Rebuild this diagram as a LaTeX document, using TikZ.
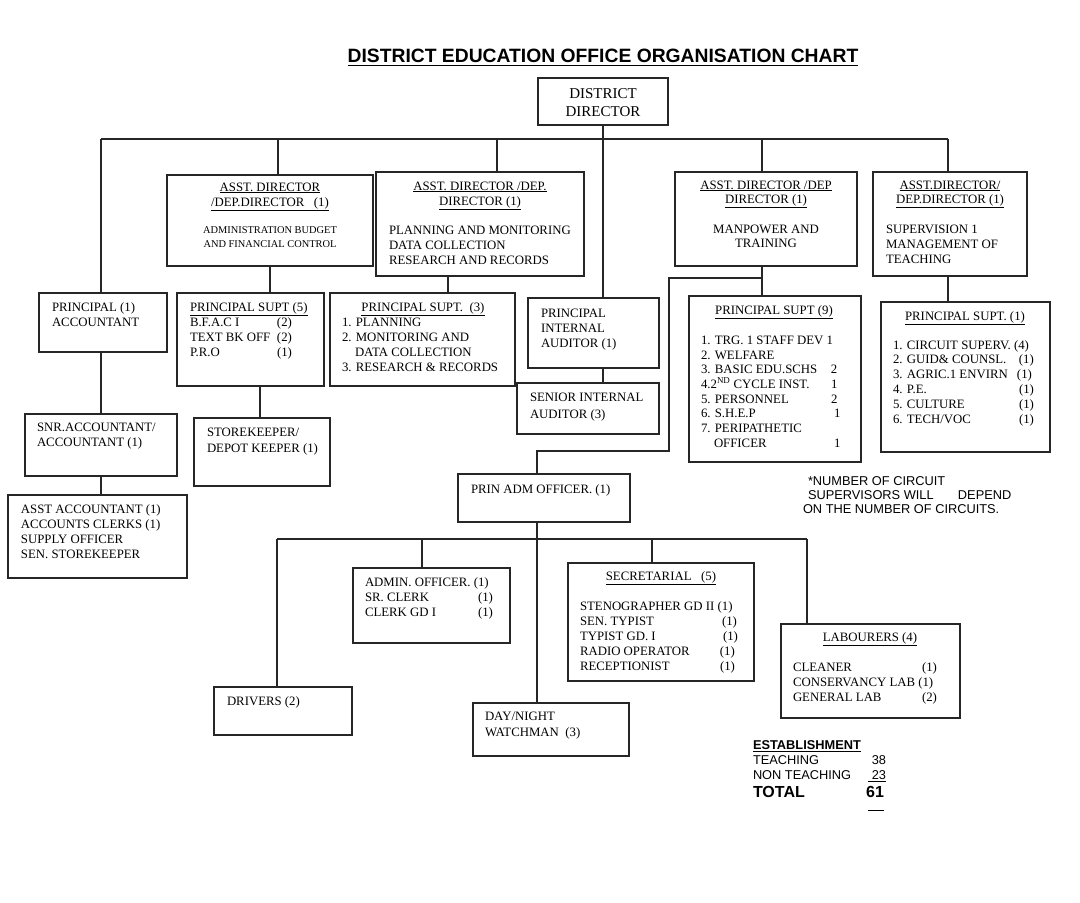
\documentclass[tikz,border=0pt]{standalone}
\usepackage{fontspec}
\setmainfont{Liberation Serif}
\newfontfamily\sansf{Liberation Sans}
\newcommand\ctr[2]{\makebox[#1pt][c]{#2}}
\newcommand\lc[2]{\makebox[#1pt][l]{#2}}
\newcommand\smallf{\fontsize{10.4}{14}\selectfont}
\newcommand\thickul[1]{\vtop{\hbox{#1}\kern1.6pt\hrule height 1.8pt}}
\newcommand\obox[7]{\node[obox, anchor=north west] (#1) at (#2,#3) {\parbox[c][\dimexpr #5pt-#3pt\relax][t]{\dimexpr #4pt-#2pt\relax}{\vspace*{#6pt}#7}};}
\tikzset{
  obox/.style={draw=black!85, line width=1.2pt, inner sep=0pt, outer sep=0pt, font=\fontsize{12.8}{15}\selectfont},
  conn/.style={draw=black!85, line width=1.2pt},
  plaintext/.style={inner sep=0pt, outer sep=0pt}
}
\begin{document}
\begin{tikzpicture}[x=1pt, y=-1pt]
\fill[white] (0,0) rectangle (1080,903);
\useasboundingbox (0,0) rectangle (1080,903);

% title
\node[plaintext, anchor=base, font=\sansf\bfseries\fontsize{19.3}{22}\selectfont] (title) at (603,62.8) {\thickul{DISTRICT EDUCATION OFFICE ORGANISATION CHART}};

% boxes
\obox{dd}{538}{78}{668}{125}{7.4}{\centering\fontsize{15}{18}\selectfont\begin{tabular}[t]{@{}c@{}}DISTRICT\\DIRECTOR\end{tabular}}

\obox{ad1}{167}{175}{373}{266}{5.6}{\centering\begin{tabular}[t]{@{}c@{}}\underline{ASST. DIRECTOR}\\ \underline{/DEP.DIRECTOR\ \ \ (1)}\\[12.3pt] {\smallf ADMINISTRATION BUDGET}\\[-1pt] {\smallf AND FINANCIAL CONTROL}\end{tabular}}

\obox{ad2}{376}{172}{584}{276}{7.6}{\hspace*{13pt}\begin{tabular}[t]{@{}l@{}}\ctr{182}{\underline{ASST. DIRECTOR /DEP.}}\\ \ctr{182}{\underline{DIRECTOR (1)}}\\[14pt] PLANNING AND MONITORING\\ DATA COLLECTION\\ RESEARCH AND RECORDS\end{tabular}}

\obox{ad3}{675}{172}{857}{266}{6.6}{\centering\begin{tabular}[t]{@{}c@{}}\underline{ASST. DIRECTOR /DEP}\\[-1pt] \underline{DIRECTOR (1)}\\[15pt] MANPOWER AND\\[-1pt] TRAINING\end{tabular}}

\obox{ad4}{873}{172}{1027}{276}{6.6}{\hspace*{13pt}\begin{tabular}[t]{@{}l@{}}\ctr{128}{\underline{ASST.DIRECTOR/}}\\[-1pt] \ctr{128}{\underline{DEP.DIRECTOR (1)}}\\[15pt] SUPERVISION 1\\ MANAGEMENT OF\\ TEACHING\end{tabular}}

\obox{pa}{39}{293}{167}{352}{7.6}{\hspace*{13pt}\begin{tabular}[t]{@{}l@{}}PRINCIPAL (1)\\ ACCOUNTANT\end{tabular}}

\obox{ps5}{177}{293}{324}{386}{7.6}{\hspace*{13pt}\begin{tabular}[t]{@{}l@{}}\underline{PRINCIPAL SUPT (5)}\\ \lc{87}{B.F.A.C I}(2)\\ \lc{87}{TEXT BK OFF}(2)\\ \lc{87}{P.R.O}(1)\end{tabular}}

\obox{ps3}{330}{293}{515}{386}{7.6}{\hspace*{12pt}\begin{tabular}[t]{@{}l@{}}\ctr{162}{\underline{PRINCIPAL SUPT.\ \ (3)}}\\ 1. PLANNING\\ 2. MONITORING AND\\ \hspace*{13pt}DATA COLLECTION\\ 3. RESEARCH \& RECORDS\end{tabular}}

\obox{pia}{528}{298}{659}{368}{8.6}{\hspace*{13pt}\begin{tabular}[t]{@{}l@{}}PRINCIPAL\\ INTERNAL\\ AUDITOR (1)\end{tabular}}

\obox{sia}{517}{383}{659}{434}{7.6}{\hspace*{13pt}\begin{tabular}[t]{@{}l@{}}SENIOR INTERNAL\\[2pt] AUDITOR (3)\end{tabular}}

\obox{ps9}{689}{296}{861}{462}{7.6}{\hspace*{12pt}\begin{tabular}[t]{@{}l@{}}\ctr{146}{\underline{PRINCIPAL SUPT (9)}}\\[15pt] 1. TRG. 1 STAFF DEV 1\\ 2. WELFARE\\[-1pt] \lc{130}{3. BASIC EDU.SCHS}2\\ \lc{130}{4.2\textsuperscript{ND} CYCLE INST.}1\\ \lc{130}{5. PERSONNEL}2\\[-1pt] \lc{133}{6. S.H.E.P}1\\ 7. PERIPATHETIC\\ \hspace*{13pt}\lc{120}{OFFICER}1\end{tabular}}

\obox{ps1}{881}{302}{1050}{452}{7.6}{\hspace*{12pt}\begin{tabular}[t]{@{}l@{}}\ctr{144}{\underline{PRINCIPAL SUPT. (1)}}\\[14pt] 1. CIRCUIT SUPERV. (4)\\[-1pt] \lc{126}{2. GUID\& COUNSL.}(1)\\ \lc{124}{3. AGRIC.1 ENVIRN}(1)\\ \lc{126}{4. P.E.}(1)\\ \lc{126}{5. CULTURE}(1)\\ \lc{126}{6. TECH/VOC}(1)\end{tabular}}

\obox{snr}{25}{414}{177}{476}{6.6}{\hspace*{12pt}\begin{tabular}[t]{@{}l@{}}SNR.ACCOUNTANT/\\ ACCOUNTANT (1)\end{tabular}}

\obox{aa}{8}{495}{187}{578}{7.6}{\hspace*{13pt}\begin{tabular}[t]{@{}l@{}}ASST ACCOUNTANT (1)\\ ACCOUNTS CLERKS (1)\\ SUPPLY OFFICER\\ SEN. STOREKEEPER\end{tabular}}

\obox{sk}{194}{418}{330}{486}{7.6}{\hspace*{13pt}\begin{tabular}[t]{@{}l@{}}STOREKEEPER/\\[1pt] DEPOT KEEPER (1)\end{tabular}}

\obox{pao}{458}{474}{630}{522}{8.6}{\hspace*{13pt}\begin{tabular}[t]{@{}l@{}}PRIN ADM OFFICER. (1)\end{tabular}}

\obox{ao}{353}{568}{510}{643}{7.6}{\hspace*{12pt}\begin{tabular}[t]{@{}l@{}}ADMIN. OFFICER. (1)\\ \lc{113}{SR. CLERK}(1)\\ \lc{113}{CLERK GD I}(1)\end{tabular}}

\obox{sec}{568}{563}{754}{681}{6.6}{\hspace*{12pt}\begin{tabular}[t]{@{}l@{}}\ctr{162}{\underline{SECRETARIAL\ \ \ (5)}}\\[15pt] STENOGRAPHER GD II (1)\\ \lc{142}{SEN. TYPIST}(1)\\ \lc{143}{TYPIST GD. I}(1)\\ \lc{140}{RADIO OPERATOR}(1)\\ \lc{140}{RECEPTIONIST}(1)\end{tabular}}

\obox{lab}{781}{624}{960}{718}{6.6}{\hspace*{12pt}\begin{tabular}[t]{@{}l@{}}\ctr{154}{\underline{LABOURERS (4)}}\\[15pt] \lc{129}{CLEANER}(1)\\ CONSERVANCY LAB (1)\\ \lc{129}{GENERAL LAB}(2)\end{tabular}}

\obox{dr}{214}{687}{352}{735}{7.6}{\hspace*{13pt}\begin{tabular}[t]{@{}l@{}}DRIVERS (2)\end{tabular}}

\obox{dn}{473}{703}{629}{756}{6.6}{\hspace*{12pt}\begin{tabular}[t]{@{}l@{}}DAY/NIGHT\\[1pt] WATCHMAN\ \ (3)\end{tabular}}

% note
\node[plaintext, anchor=north west, font=\sansf\fontsize{12.8}{14}\selectfont] (note) at (803,475.8) {\begin{tabular}[t]{@{}l@{}}\hspace*{5pt}*NUMBER OF CIRCUIT\\ \hspace*{5pt}\lc{150}{SUPERVISORS WILL}DEPEND\\ ON THE NUMBER OF CIRCUITS.\end{tabular}};

% establishment
\node[plaintext, anchor=north west, font=\sansf\fontsize{12.8}{15}\selectfont] (est) at (753,739.1) {\begin{tabular}[t]{@{}l@{}}\underline{\textbf{ESTABLISHMENT}}\\ \hbox to 133pt{TEACHING\hfil 38}\\ \hbox to 133pt{NON TEACHING\hfil\underline{\ 23}}\\[2pt] \hbox to 131pt{\fontsize{16}{18}\selectfont\bfseries TOTAL\hfil 61}\\[-1pt] \hbox to 131pt{\hfil\rule{16pt}{0.8pt}}\end{tabular}};

% connector coordinates
\coordinate (b1) at (101,139);
\coordinate (b2) at (278,139);
\coordinate (b3) at (497,139);
\coordinate (b4) at (762,139);
\coordinate (b5) at (948,139);
\coordinate (k2) at (448,0);
\coordinate (k4) at (260,0);
\coordinate (j1) at (762,278);
\coordinate (j2) at (669,278);
\coordinate (j3) at (669,451);
\coordinate (j4) at (537,451);
\coordinate (c1) at (277,539);
\coordinate (c2) at (422,539);
\coordinate (c4) at (652,539);
\coordinate (c5) at (807,539);

% top level
\draw[conn] (b1) -- (b5);
\draw[conn] (dd.south) -- (dd.south |- pia.north);
\draw[conn] (b1) -- (b1 |- pa.north);
\draw[conn] (b2) -- (b2 |- ad1.north);
\draw[conn] (b3) -- (b3 |- ad2.north);
\draw[conn] (b4) -- (b4 |- ad3.north);
\draw[conn] (b5) -- (b5 |- ad4.north);

% second level
\draw[conn] (ad1.south) -- (ad1.south |- ps5.north);
\draw[conn] (k2 |- ad2.south) -- (k2 |- ps3.north);
\draw[conn] (b4 |- ad3.south) -- (b4 |- ps9.north);
\draw[conn] (b5 |- ad4.south) -- (b5 |- ps1.north);
\draw[conn] (j1) -- (j2) -- (j3) -- (j4) -- (j4 |- pao.north);

% lower left
\draw[conn] (b1 |- pa.south) -- (b1 |- snr.north);
\draw[conn] (b1 |- snr.south) -- (b1 |- aa.north);
\draw[conn] (k4 |- ps5.south) -- (k4 |- sk.north);
\draw[conn] (dd.south |- pia.south) -- (dd.south |- sia.north);

% admin branch
\draw[conn] (j4 |- pao.south) -- (j4 |- dn.north);
\draw[conn] (c1) -- (c5);
\draw[conn] (c1) -- (c1 |- dr.north);
\draw[conn] (c2) -- (c2 |- ao.north);
\draw[conn] (c4) -- (c4 |- sec.north);
\draw[conn] (c5) -- (c5 |- lab.north);
\end{tikzpicture}
\end{document}
